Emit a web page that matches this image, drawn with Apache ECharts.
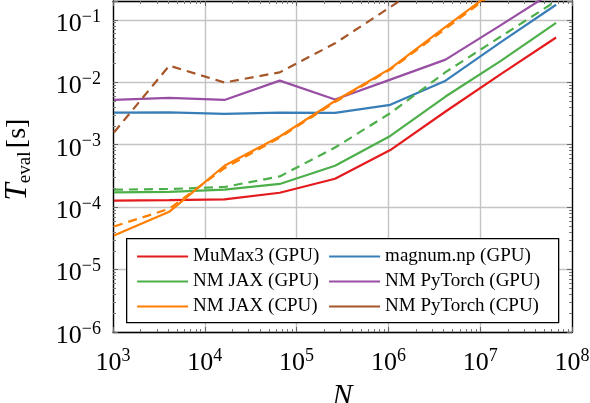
<!DOCTYPE html>
<html>
<head>
<meta charset="utf-8">
<script src="https://cdn.jsdelivr.net/npm/echarts@6/dist/echarts.min.js"></script>
<style>
html,body{margin:0;padding:0;background:#fff}
#chart{width:590px;height:403px}
</style>
</head>
<body>
<div id="chart"></div>
<script>
// problem size N (2^10 ... 2^26)
var sizes = [1024, 4096, 16384, 65536, 262144, 1048576, 4194304, 16777216, 67108864];

// evaluation time in seconds
var mumaxGpu     = [1.27e-4, 1.29e-4, 1.33e-4, 1.7e-4, 2.85e-4, 8.2e-4, 3.4e-3, 1.35e-2, 5.2e-2];
var magnumGpu    = [3.25e-3, 3.3e-3, 3.12e-3, 3.25e-3, 3.23e-3, 4.35e-3, 1.06e-2, 4.4e-2, 1.74e-1];
var jaxGpu       = [1.72e-4, 1.75e-4, 1.9e-4, 2.35e-4, 4.6e-4, 1.38e-3, 5.9e-3, 2.2e-2, 8.9e-2];
var jaxGpuDash   = [1.9e-4, 1.95e-4, 2.1e-4, 3.1e-4, 9.0e-4, 3.2e-3, 1.45e-2, 5.4e-2, 2.0e-1];
var torchGpu     = [5.2e-3, 5.6e-3, 5.2e-3, 1.06e-2, 5.3e-3, 1.1e-2, 2.3e-2, 8.2e-2, 3.0e-1];
var jaxCpu       = [3.5e-5, 8.4e-5, 4.6e-4, 1.35e-3, 5.0e-3, 1.65e-2, 7.7e-2, 3.5e-1, 1.5];
var jaxCpuDash   = [4.9e-5, 9.4e-5, 4.2e-4, 1.3e-3, 4.8e-3, 1.6e-2, 7.2e-2, 3.3e-1, 1.4];
var torchCpuDash = [1.57e-3, 1.84e-2, 9.9e-3, 1.44e-2, 4.2e-2, 1.6e-1, 6.0e-1, 2.5, 10];

var legendLeft  = ['MuMax3 (GPU)', 'NM JAX (GPU)', 'NM JAX (CPU)'];
var legendRight = ['magnum.np (GPU)', 'NM PyTorch (GPU)', 'NM PyTorch (CPU)'];

var xRange = [1e3, 1e8];
var yRange = [1e-6, 0.2];

var serif = 'Liberation Serif';
var colors = {
  red: '#e41a1c', blue: '#377eb8', green: '#4daf4a',
  purple: '#984ea3', orange: '#ff7f00', brown: '#a65628'
};

// minor tick positions 2..9 x 10^k
function minorTicks(lo, hi) {
  var out = [];
  for (var k = lo; k < hi; k++) {
    for (var m = 2; m <= 9; m++) out.push(m * Math.pow(10, k));
  }
  return out;
}
var xMinor = minorTicks(3, 8);
var yMinor = minorTicks(-6, 0).filter(function (v) { return v <= 0.2; });

function powLabel(v) {
  var e = Math.round(Math.log(v) / Math.LN10);
  if (Math.abs(v / Math.pow(10, e) - 1) > 1e-6) return '';
  return '{b|10}{e|' + (e < 0 ? '\u2212' + (-e) : e) + '}';
}
var labelRich = {
  b: { fontFamily: serif, fontSize: 26, color: '#000', lineHeight: 32 },
  e: { fontFamily: serif, fontSize: 18, color: '#000', verticalAlign: 'top' }
};

function axisBase(extra) {
  var a = {
    type: 'log', logBase: 10,
    axisLine: { show: true, onZero: false, lineStyle: { color: '#000', width: 1.3 } },
    axisTick: { show: true, inside: true, length: 5, lineStyle: { color: '#666', width: 1 } },
    axisLabel: { show: false },
    splitLine: { show: false }
  };
  for (var k in extra) a[k] = extra[k];
  return a;
}
function minorTick(vals) {
  return { show: true, inside: true, length: 3, customValues: vals, lineStyle: { color: '#777', width: 1 } };
}

var xAxes = [
  axisBase({
    min: xRange[0], max: xRange[1], position: 'bottom',
    name: 'N', nameLocation: 'middle', nameGap: 49,
    nameTextStyle: { fontFamily: serif, fontStyle: 'italic', fontSize: 30, color: '#000' },
    axisLabel: { show: true, margin: 15, formatter: powLabel, rich: labelRich },
    splitLine: { show: true, lineStyle: { color: '#c4c4c4', width: 1.4 } }
  }),
  axisBase({ min: xRange[0], max: xRange[1], position: 'bottom', axisLine: { show: false }, axisTick: minorTick(xMinor) }),
  axisBase({ min: xRange[0], max: xRange[1], position: 'top' }),
  axisBase({ min: xRange[0], max: xRange[1], position: 'top', axisLine: { show: false }, axisTick: minorTick(xMinor) })
];
var yAxes = [
  axisBase({
    min: yRange[0], max: yRange[1], position: 'left',
    name: '{t|T}{s|eval} {r|[s]}', nameLocation: 'middle', nameGap: 78, nameRotate: 90,
    nameTextStyle: {
      padding: [0, 0, 0, 14],
      rich: {
        t: { fontFamily: serif, fontStyle: 'italic', fontSize: 31, color: '#000', lineHeight: 34 },
        s: { fontFamily: serif, fontSize: 19, color: '#000', verticalAlign: 'bottom' },
        r: { fontFamily: serif, fontSize: 28, color: '#000' }
      }
    },
    axisLabel: { show: true, margin: 12, padding: [8, 0, 0, 0], formatter: powLabel, rich: labelRich },
    splitLine: { show: true, lineStyle: { color: '#c4c4c4', width: 1.4 } }
  }),
  axisBase({ min: yRange[0], max: yRange[1], position: 'left', axisLine: { show: false }, axisTick: minorTick(yMinor) }),
  axisBase({ min: yRange[0], max: yRange[1], position: 'right' }),
  axisBase({ min: yRange[0], max: yRange[1], position: 'right', axisLine: { show: false }, axisTick: minorTick(yMinor) })
];

function line(name, vals, color, dashed) {
  return {
    name: name, type: 'line',
    data: sizes.map(function (n, i) { return [n, vals[i]]; }),
    symbol: 'none', showSymbol: false, clip: true, animation: false,
    lineStyle: { color: color, width: 2.2, type: dashed ? [9, 6] : 'solid' },
    itemStyle: { color: color }
  };
}

var series = [
  line('MuMax3 (GPU)', mumaxGpu, colors.red),
  line('magnum.np (GPU)', magnumGpu, colors.blue),
  line('NM JAX (GPU)', jaxGpu, colors.green),
  line('NM JAX (GPU)', jaxGpuDash, colors.green, true),
  line('NM PyTorch (GPU)', torchGpu, colors.purple),
  line('NM JAX (CPU)', jaxCpu, colors.orange),
  line('NM JAX (CPU)', jaxCpuDash, colors.orange, true),
  line('NM PyTorch (CPU)', torchCpuDash, colors.brown, true)
];

function legendCol(names, left) {
  return {
    z: 100, left: left, top: 247, orient: 'vertical', padding: 0,
    itemWidth: 51, itemHeight: 14, itemGap: 6, selectedMode: false,
    textStyle: { fontFamily: serif, fontSize: 19, color: '#000' },
    data: names.map(function (n) {
      return { name: n, lineStyle: { type: 'solid', width: 2.2 }, itemStyle: { opacity: 0, borderWidth: 0 } };
    })
  };
}

var chart = echarts.init(document.getElementById('chart'));
chart.setOption({
  animation: false,
  backgroundColor: '#fff',
  grid: { left: 113, right: 18, top: 1, bottom: 71, containLabel: false, outerBoundsMode: 'none' },
  xAxis: xAxes,
  yAxis: yAxes,
  legend: [legendCol(legendLeft, 136), legendCol(legendRight, 328)],
  graphic: [{
    type: 'rect', left: 126, top: 238, z: 50,
    shape: { width: 432, height: 84 },
    style: { fill: '#fff', stroke: '#000', lineWidth: 1.3 }
  }],
  series: series
});
</script>
</body>
</html>
